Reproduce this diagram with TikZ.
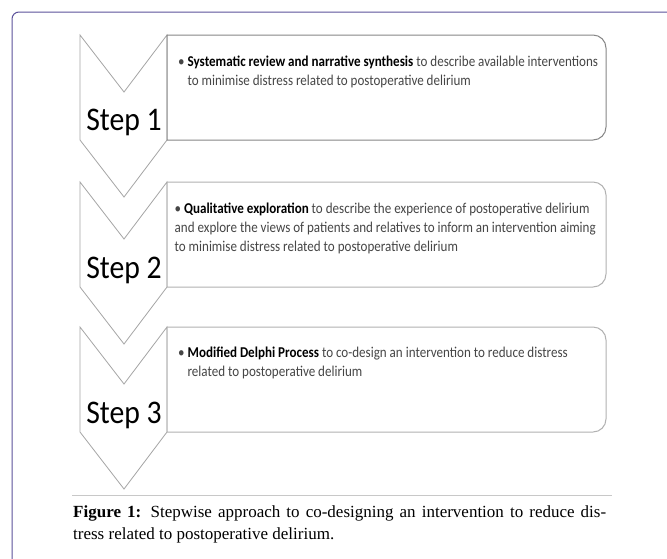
\documentclass[tikz,border=0pt]{standalone}
\usepackage{fontspec}
\newfontfamily\calib{Carlito}
\newfontfamily\capfont{Liberation Serif}
\definecolor{framecol}{RGB}{92,82,155}
\definecolor{chevcol}{RGB}{165,165,165}
\definecolor{boxdark}{RGB}{135,135,135}
\definecolor{boxlight}{RGB}{178,178,178}
\definecolor{bodytxt}{RGB}{70,70,70}
\definecolor{rulecol}{RGB}{200,200,200}
\tikzset{
  chev/.style={draw=chevcol, line width=0.8pt, fill=white, line join=miter},
  stepbox/.style={line width=1pt, fill=white},
  steplabel/.style={anchor=base, inner sep=0pt, font=\calib\fontsize{33}{36}\selectfont, xscale=0.9, text=black},
  bodyline/.style={anchor=base west, inner sep=0pt, font=\calib\fontsize{15}{19}\selectfont, xscale=0.87, text=bodytxt},
  capline/.style={anchor=base west, inner sep=0pt, font=\capfont\fontsize{17}{22}\selectfont, text=black}
}
\newcommand{\chevron}[2]{%
  \draw[chev] (80,#1) -- (124,#1+57) -- (167,#1) -- (167,#1+105) -- (124,#1+162) -- (80,#1+105) -- cycle;
  \draw[stepbox,draw=#2] (167,#1) -- (400,#1) [rounded corners=13pt] -- (606,#1) -- (606,#1+105) -- (400,#1+105) [sharp corners] -- (167,#1+105) -- cycle;
}
\begin{document}
\begin{tikzpicture}[x=1pt,y=-1pt]
\useasboundingbox (0,0) rectangle (667,558);
\fill[white] (0,0) rectangle (667,558);
\begin{scope}
\clip (0,0) rectangle (667,558);
\draw[framecol, line width=1pt, rounded corners=7pt] (12,600) -- (12,12) -- (700,12);
\end{scope}
% step 1
\chevron{35}{boxdark}
\node[steplabel] (l1) at (124,130) {Step 1};
\node[bodyline] (t1a) at (178,66) {• \textbf{\color{black}Systematic review and narrative synthesis} to describe available interventions};
\node[bodyline] (t1b) at (187.4,85) {to minimise distress related to postoperative delirium};
% step 2
\chevron{182}{boxlight}
\node[steplabel] (l2) at (124,278) {Step 2};
\node[bodyline] (t2a) at (174.5,213) {• \textbf{\color{black}Qualitative exploration} to describe the experience of postoperative delirium};
\node[bodyline] (t2b) at (174.5,232) {and explore the views of patients and relatives to inform an intervention aiming};
\node[bodyline] (t2c) at (174.5,251) {to minimise distress related to postoperative delirium};
% step 3
\chevron{327}{boxlight}
\node[steplabel] (l3) at (124,423) {Step 3};
\node[bodyline] (t3a) at (178,357) {• \textbf{\color{black}Modified Delphi Process} to co-design an intervention to reduce distress};
\node[bodyline] (t3b) at (187.4,376) {related to postoperative delirium};
% caption
\draw[rulecol, line width=0.8pt] (72,495) coordinate (r0) -- (612,495) coordinate (r1);
\node[capline] (c1) at (73,517) {\makebox[533pt][s]{\textbf{Figure 1:} Stepwise approach to co-designing an intervention to reduce dis-}};
\node[capline] (c2) at (73,539) {tress related to postoperative delirium.};
\end{tikzpicture}
\end{document}
